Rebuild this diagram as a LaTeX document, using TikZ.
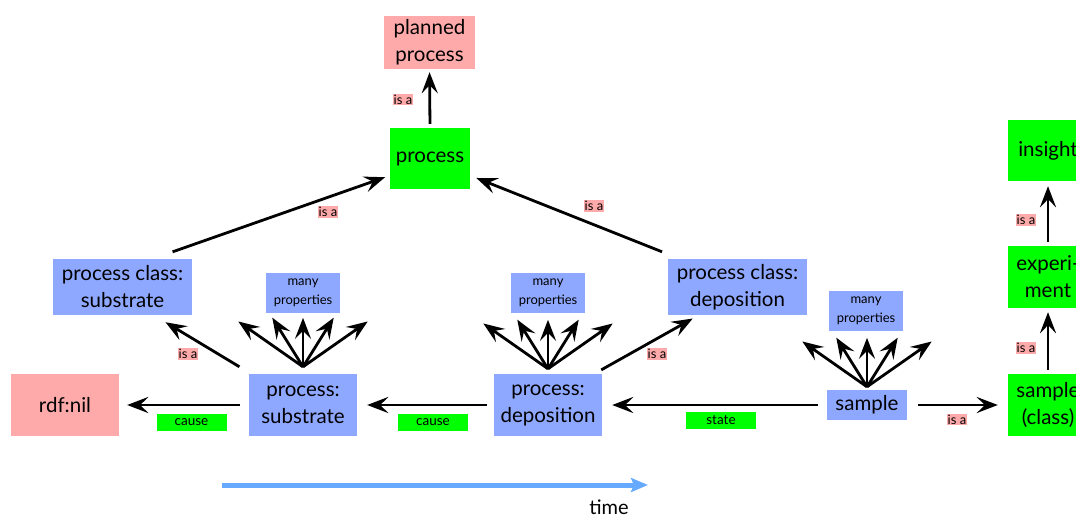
\documentclass[tikz,border=0pt]{standalone}
\usepackage{fontspec}
\setmainfont{Lato}
\usetikzlibrary{arrows.meta,calc}
\definecolor{nodeblue}{RGB}{143,168,255}
\definecolor{nodepink}{RGB}{255,170,170}
\definecolor{nodegreen}{RGB}{0,255,0}
\definecolor{timeblue}{RGB}{102,170,255}
\tikzset{
  box/.style={rectangle, inner sep=2pt, align=center, font=\fontsize{20.5}{27}\selectfont},
  bluebox/.style={box, fill=nodeblue},
  pinkbox/.style={box, fill=nodepink},
  greenbox/.style={box, fill=nodegreen},
  propbox/.style={rectangle, fill=nodeblue, inner sep=1pt, align=center,
    minimum width=74pt, minimum height=40pt, font=\fontsize{13}{19}\selectfont},
  arr/.style={line width=2.8pt, -{Stealth[length=21pt,width=16pt,inset=8pt]}},
  isa/.style={fill=nodepink, inner sep=1pt, font=\fontsize{13}{13}\selectfont},
  rel/.style={fill=nodegreen, inner sep=0pt, minimum width=70pt, minimum height=17pt,
    font=\fontsize{13.5}{14}\selectfont},
}
\begin{document}
\begin{tikzpicture}[x=1pt, y=-1pt]
\useasboundingbox (0,0) rectangle (1076,517);

% nodes
\node[pinkbox, minimum width=91pt, minimum height=53pt] (planned) at (429.5,42.5) {planned\\process};
\node[greenbox, minimum width=80pt, minimum height=61pt] (process) at (430,158.5) {process};
\node[bluebox, minimum width=139pt, minimum height=56pt] (pcsub) at (122.5,287) {process class:\\substrate};
\node[bluebox, minimum width=139pt, minimum height=56pt] (pcdep) at (737.5,287) {process class:\\deposition};
\node[propbox] (props1) at (303,293) {many\\properties};
\node[propbox] (props2) at (548,293) {many\\properties};
\node[propbox] (props3) at (866,311) {many\\properties};
\node[pinkbox, minimum width=108pt, minimum height=62pt] (rdf) at (65,405) {rdf:nil};
\node[bluebox, minimum width=108pt, minimum height=62pt] (psub) at (303,405) {process:\\substrate};
\node[bluebox, minimum width=108pt, minimum height=62pt] (pdep) at (548,405) {process:\\deposition};
\node[bluebox, minimum width=80pt, minimum height=30pt] (sample) at (867,405) {sample};
\node[greenbox, minimum width=80pt, minimum height=62pt] (sclass) at (1048,405) {sample\\(class)};
\node[greenbox, minimum width=80pt, minimum height=62pt] (exper) at (1048,277) {experi-\\ment};
\node[greenbox, minimum width=80pt, minimum height=61pt] (insight) at (1048,150.5) {insight};

% is-a links
\draw[arr, shorten <=4pt, shorten >=3pt] (process.north) -- (planned.south)
  node[isa] at (403,99.5) {is a};
\draw[arr, shorten <=21pt, shorten >=5pt] (pcsub.43) -- (process.203)
  node[isa] at (328,212) {is a};
\draw[arr, shorten <=19pt, shorten >=6.5pt] (pcdep.154) -- (process.337)
  node[isa] at (594,206) {is a};
\draw[arr, shorten <=13.6pt, shorten >=13.6pt] (psub.149) -- (pcsub.318)
  node[isa] at (188,354) {is a};
\draw[arr, shorten <=8pt, shorten >=6.8pt] (pdep.34) -- (pcdep.216)
  node[isa] at (657,354) {is a};
\draw[arr, shorten <=11pt, shorten >=10pt] (sample.east) -- (sclass.west)
  node[isa] at (957,419.5) {is a};
\draw[arr, shorten <=4pt, shorten >=4pt] (sclass.north) -- (exper.south)
  node[isa] at (1026,348) {is a};
\draw[arr, shorten <=4pt, shorten >=5pt] (exper.north) -- (insight.south)
  node[isa] at (1026,220) {is a};

% state and cause links
\draw[arr, shorten <=9pt, shorten >=10pt] (sample.west) -- (pdep.east)
  node[rel] at (721,420) {state};
\draw[arr, shorten <=7pt, shorten >=10pt] (pdep.west) -- (psub.east)
  node[rel] at (433,422.5) {cause};
\draw[arr, shorten <=9pt, shorten >=8pt] (psub.west) -- (rdf.east)
  node[rel] at (191.5,422.5) {cause};

% property fans
\coordinate (fan1) at ([yshift=7pt]psub.north);
\coordinate (fan2) at ([yshift=5pt]pdep.north);
\coordinate (fan3) at ([yshift=3pt]sample.north);
\foreach \f in {fan1,fan2,fan3}
  \foreach \a/\l in {145/79,122/58,90/49,58/58,35/79}
    \draw[arr] (\f) -- ++(\a:\l pt);

% time axis
\coordinate (tstart) at (222,485);
\coordinate (tend) at (648,485);
\draw[line width=5pt, timeblue, -{Stealth[length=17pt,width=14pt,inset=3pt]}] (tstart) -- (tend);
\node[font=\fontsize{20}{22}\selectfont, inner sep=1pt] (time) at (609,507) {time};
\end{tikzpicture}
\end{document}
